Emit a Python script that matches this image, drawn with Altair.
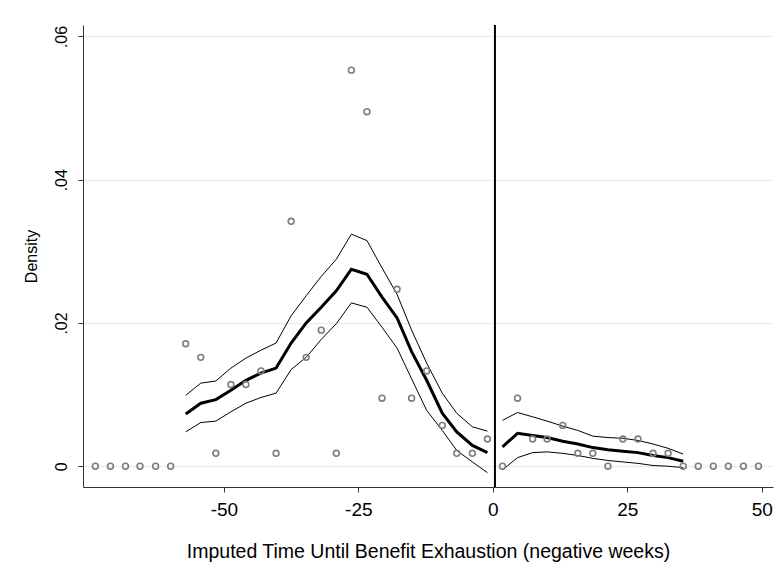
import altair as alt
import pandas as pd

# Binned density (scatter points)
bin_x = [-73.9, -71.1, -68.3, -65.6, -62.7, -59.9, -57.1, -54.3, -51.5, -48.7,
         -45.9, -43.1, -40.3, -37.5, -34.7, -31.9, -29.1, -26.3, -23.4, -20.6,
         -17.8, -15.1, -12.3, -9.4, -6.7, -3.8, -1.0,
         1.8, 4.6, 7.4, 10.1, 13.0, 15.8, 18.6, 21.4, 24.2, 27.0, 29.8, 32.6,
         35.4, 38.2, 41.0, 43.8, 46.6, 49.4]
bin_density = [0, 0, 0, 0, 0, 0, 0.0171, 0.0152, 0.0018, 0.0114,
               0.0114, 0.0133, 0.0018, 0.0342, 0.0152, 0.0190, 0.0018, 0.0553, 0.0495, 0.0095,
               0.0247, 0.0095, 0.0133, 0.0057, 0.0018, 0.0018, 0.0038,
               0, 0.0095, 0.0038, 0.0038, 0.0057, 0.0018, 0.0018, 0, 0.0038, 0.0038, 0.0018, 0.0018,
               0, 0, 0, 0, 0, 0]

# Local polynomial fit, left of cutoff
left_x = [-57.1, -54.3, -51.5, -48.7, -45.9, -43.1, -40.3, -37.5, -34.7, -31.9,
          -29.1, -26.3, -23.4, -20.6, -17.8, -15.1, -12.3, -9.4, -6.7, -3.8, -1.0]
left_fit = [0.0073, 0.0088, 0.0093, 0.0106, 0.0120, 0.0130, 0.0137, 0.0172, 0.0200, 0.0222,
            0.0245, 0.0275, 0.0268, 0.0236, 0.0207, 0.0160, 0.0120, 0.0074, 0.0048, 0.0029, 0.0019]
left_hi = [0.0099, 0.0116, 0.0119, 0.0137, 0.0151, 0.0162, 0.0172, 0.0210, 0.0238, 0.0265,
           0.0289, 0.0324, 0.0315, 0.0277, 0.0240, 0.0190, 0.0144, 0.0102, 0.0074, 0.0055, 0.0049]
left_lo = [0.0048, 0.0061, 0.0063, 0.0076, 0.0088, 0.0096, 0.0102, 0.0135, 0.0152, 0.0177,
           0.0199, 0.0228, 0.0222, 0.0194, 0.0165, 0.0122, 0.0078, 0.0050, 0.0022, 0.0006, -0.0009]

# Local polynomial fit, right of cutoff
right_x = [1.8, 4.6, 7.4, 10.1, 13.0, 15.8, 18.6, 21.4, 24.2, 27.0, 29.8, 32.6, 35.4]
right_fit = [0.0027, 0.0046, 0.0043, 0.0040, 0.0035, 0.0031, 0.0026, 0.0023, 0.0021, 0.0019, 0.0015, 0.0012, 0.0007]
right_hi = [0.0064, 0.0075, 0.0069, 0.0063, 0.0056, 0.0050, 0.0042, 0.0040, 0.0039, 0.0036, 0.0031, 0.0025, 0.0017]
right_lo = [-0.0005, 0.0012, 0.0019, 0.0020, 0.0018, 0.0015, 0.0011, 0.0008, 0.0006, 0.0004, 0.0001, 0.0000, -0.0002]

cutoff = [0.4]
x_ticks = [-50, -25, 0, 25, 50]
y_ticks = [0, 0.02, 0.04, 0.06]

FONT = "Liberation Sans"

pts = pd.DataFrame({"x": bin_x, "y": bin_density})

rows = []
for seg, xs, f, hi, lo in [("L", left_x, left_fit, left_hi, left_lo),
                           ("R", right_x, right_fit, right_hi, right_lo)]:
    for i, xv in enumerate(xs):
        rows.append({"x": xv, "y": f[i], "series": seg + "fit", "kind": "fit"})
        rows.append({"x": xv, "y": hi[i], "series": seg + "hi", "kind": "ci"})
        rows.append({"x": xv, "y": lo[i], "series": seg + "lo", "kind": "ci"})
lines = pd.DataFrame(rows)

xscale = alt.Scale(domain=[-76.2, 52.1], nice=False, zero=False)
yscale = alt.Scale(domain=[-0.0029, 0.0616], nice=False, zero=False)

xaxis = alt.Axis(values=x_ticks, title="Imputed Time Until Benefit Exhaustion (negative weeks)",
                 grid=False, tickSize=5, labelPadding=8, titlePadding=23,
                 labelExpr="datum.value < 0 ? '-' + abs(datum.value) : '' + datum.value",
                 labelFontSize=19, titleFontSize=19.5, labelFont=FONT, titleFont=FONT,
                 labelColor="black", titleColor="black", titleFontWeight="normal",
                 domainColor="#333333", tickColor="#333333")
yaxis = alt.Axis(values=y_ticks, title="Density", grid=True, gridColor="#E8EFF1", gridWidth=1.5,
                 tickSize=5, labelAngle=270, labelAlign="center", labelBaseline="bottom",
                 labelPadding=9, titlePadding=14,
                 labelExpr="datum.value == 0 ? '0' : '.' + substring(format(datum.value, '.2f'), 2)",
                 labelFontSize=16, titleFontSize=16, labelFont=FONT, titleFont=FONT,
                 labelColor="black", titleColor="black", titleFontWeight="normal",
                 domainColor="#333333", tickColor="#333333")

ci = alt.Chart(lines[lines.kind == "ci"]).mark_line(color="black", strokeWidth=1).encode(
    x=alt.X("x:Q", scale=xscale, axis=xaxis),
    y=alt.Y("y:Q", scale=yscale, axis=yaxis),
    detail="series:N",
)
fit = alt.Chart(lines[lines.kind == "fit"]).mark_line(color="black", strokeWidth=3).encode(
    x=alt.X("x:Q", scale=xscale),
    y=alt.Y("y:Q", scale=yscale),
    detail="series:N",
)
points = alt.Chart(pts).mark_point(shape="circle", filled=False, color="#7f7f7f",
                                   size=34, strokeWidth=1.6, opacity=1).encode(
    x=alt.X("x:Q", scale=xscale),
    y=alt.Y("y:Q", scale=yscale),
)
rule = alt.Chart(pd.DataFrame({"x": cutoff})).mark_rule(color="black", strokeWidth=2).encode(
    x=alt.X("x:Q", scale=xscale),
)

chart = alt.layer(ci, fit, points, rule).properties(
    width=690, height=462,
    autosize=alt.AutoSizeParams(type="none"),
    padding={"left": 75, "top": 17, "right": 2, "bottom": 80},
    background="white",
).configure_view(stroke=None)

chart.save("out.html", embed_options={"renderer": "svg", "actions": False})
